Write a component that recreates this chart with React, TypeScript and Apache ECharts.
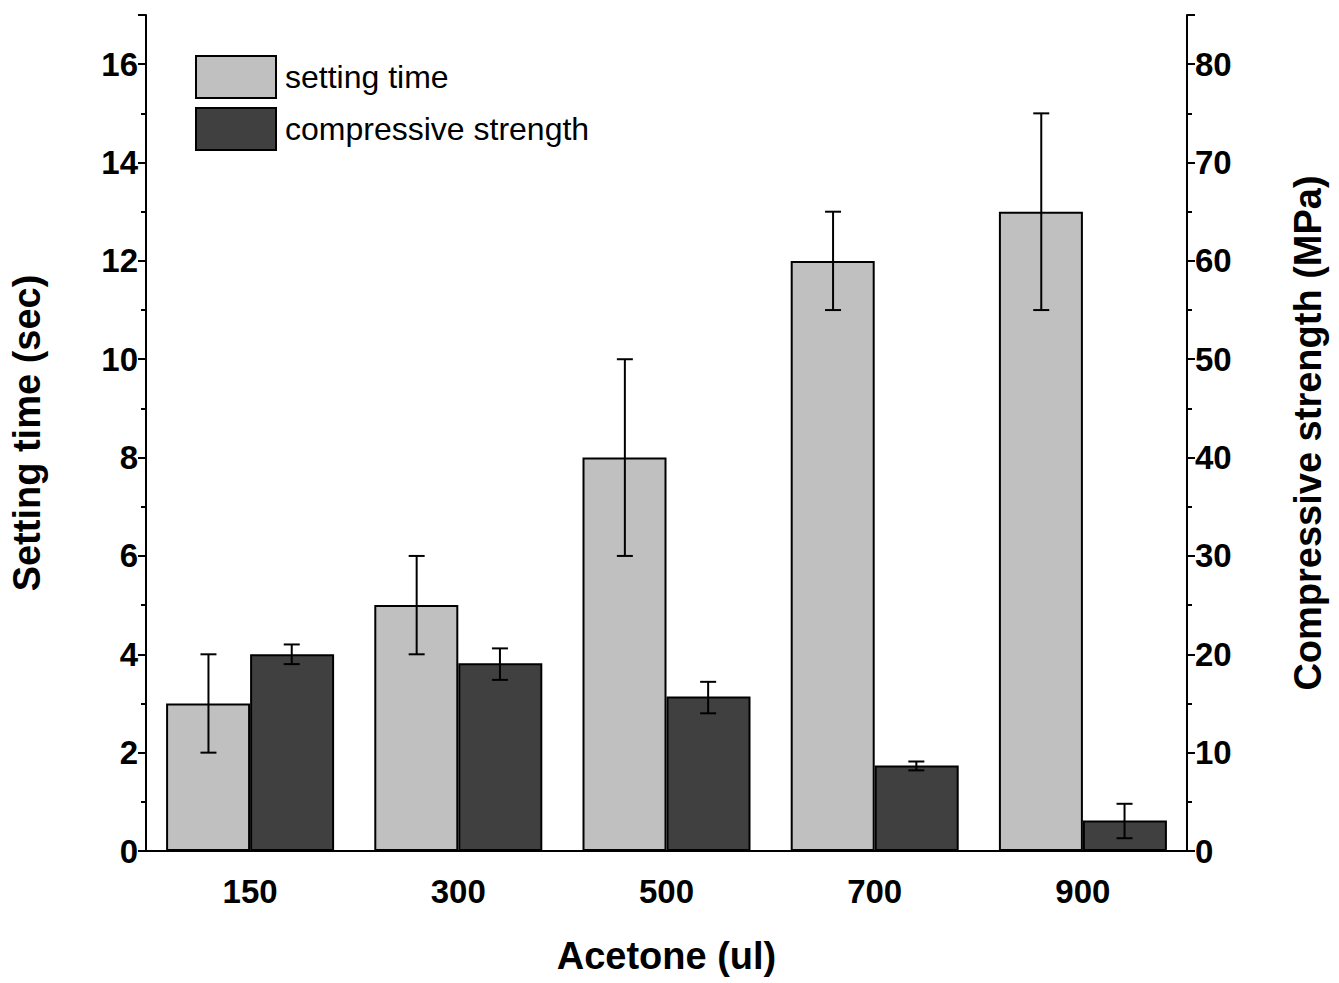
import React, { useEffect, useRef } from 'react';
import * as echarts from 'echarts';

const categories = ['150', '300', '500', '700', '900'];
const settingTime = [3, 5, 8, 12, 13];
const settingLow = [2, 4, 6, 11, 11];
const settingHigh = [4, 6, 10, 13, 15];
const strength = [20, 19.1, 15.7, 8.7, 3.1];
const strengthLow = [19, 17.4, 14.0, 8.2, 1.3];
const strengthHigh = [21, 20.6, 17.2, 9.1, 4.8];

const errorSeries = (low: number[], high: number[], yAxisIndex: number, dir: number) => ({
  type: 'custom',
  yAxisIndex,
  z: 10,
  data: categories.map((_, i) => [i, low[i], high[i]]),
  renderItem: (params: any, api: any) => {
    const band = api.size([1, 0])[0];
    const off = dir * band * 0.2;
    const lo = api.coord([api.value(0), api.value(1)]);
    const hi = api.coord([api.value(0), api.value(2)]);
    const x = lo[0] + off;
    const w = 8;
    const style = { stroke: '#000', lineWidth: 2 };
    return {
      type: 'group',
      children: [
        { type: 'line', shape: { x1: x, y1: lo[1], x2: x, y2: hi[1] }, style },
        { type: 'line', shape: { x1: x - w, y1: lo[1], x2: x + w, y2: lo[1] }, style },
        { type: 'line', shape: { x1: x - w, y1: hi[1], x2: x + w, y2: hi[1] }, style },
      ],
    };
  },
});

const App: React.FC = () => {
  const ref = useRef<HTMLDivElement>(null);

  useEffect(() => {
    if (!ref.current) return;
    const chart = echarts.init(ref.current, null, { renderer: 'svg' });
    const font = 'Liberation Sans';
    const axisCommon = {
      axisLine: { show: true, lineStyle: { color: '#000', width: 2 } },
      axisTick: { show: true, length: 8, lineStyle: { color: '#000', width: 2 } },
      minorTick: { show: true, splitNumber: 2, length: 5, lineStyle: { color: '#000', width: 2 } },
      splitLine: { show: false },
      nameLocation: 'middle' as const,
      nameTextStyle: { fontFamily: font, fontSize: 38, fontWeight: 'bold' as const, color: '#000' },
      axisLabel: { fontFamily: font, fontSize: 33, fontWeight: 'bold' as const, color: '#000', showMaxLabel: false },
    };
    chart.setOption({
      animation: false,
      grid: { left: 142, right: 152, top: 15, bottom: 132 },
      legend: {
        orient: 'vertical',
        left: 190,
        top: 50,
        icon: 'rect',
        itemWidth: 80,
        itemHeight: 42,
        itemGap: 8,
        data: ['setting time', 'compressive strength'],
        textStyle: { fontFamily: font, fontSize: 32, color: '#000', padding: [0, 0, 0, 4] },
      },
      xAxis: {
        type: 'category',
        data: categories,
        name: 'Acetone (ul)',
        nameGap: 86,
        nameLocation: 'middle',
        nameTextStyle: { fontFamily: font, fontSize: 38, fontWeight: 'bold', color: '#000' },
        axisLine: { lineStyle: { color: '#000', width: 2 } },
        axisTick: { length: 8, lineStyle: { color: '#000', width: 2 } },
        axisLabel: { fontFamily: font, fontSize: 33, fontWeight: 'bold', color: '#000', margin: 24 },
      },
      yAxis: [
        {
          ...axisCommon,
          type: 'value',
          min: 0,
          max: 17,
          interval: 2,
          name: 'Setting time (sec)',
          nameGap: 100,
        },
        {
          ...axisCommon,
          type: 'value',
          min: 0,
          max: 85,
          interval: 10,
          name: 'Compressive strength (MPa)',
          nameGap: 102,
          nameRotate: 90,
        },
      ],
      series: [
        {
          name: 'setting time',
          type: 'bar',
          data: settingTime,
          barWidth: 84,
          barGap: '0%',
          itemStyle: { color: '#c0c0c0', borderColor: '#000', borderWidth: 2 },
        },
        {
          name: 'compressive strength',
          type: 'bar',
          yAxisIndex: 1,
          data: strength,
          barWidth: 84,
          barGap: '0%',
          itemStyle: { color: '#404040', borderColor: '#000', borderWidth: 2 },
        },
        errorSeries(settingLow, settingHigh, 0, -1),
        errorSeries(strengthLow, strengthHigh, 1, 1),
      ],
    });
    return () => chart.dispose();
  }, []);

  return <div ref={ref} style={{ position: 'absolute', left: 0, top: 0, width: 1339, height: 983 }} />;
};

export default App;
